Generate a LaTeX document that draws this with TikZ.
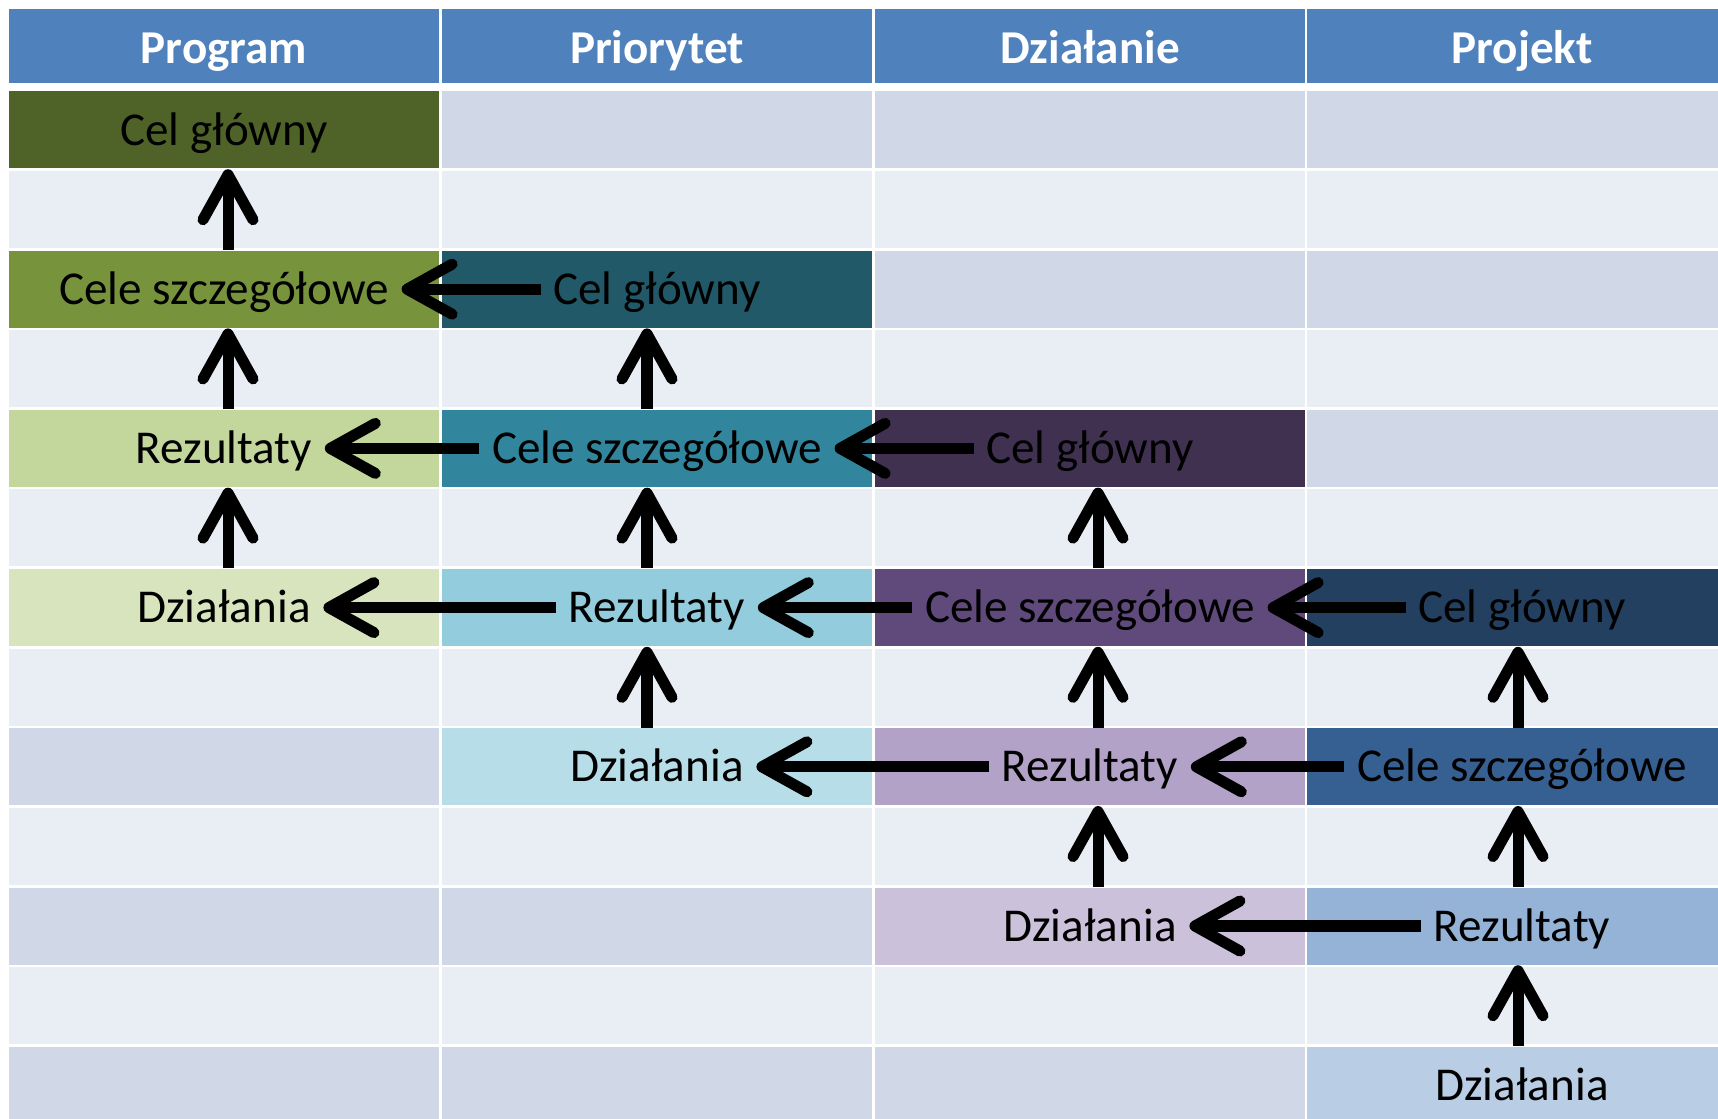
\documentclass[tikz,border=0pt]{standalone}
\usepackage{fontspec}
\setmainfont{Carlito}
\usepackage{xcolor}
\usetikzlibrary{arrows.meta}

\definecolor{head}{HTML}{4F81BD}
\definecolor{bandA}{HTML}{D0D8E8}
\definecolor{bandB}{HTML}{E9EDF4}
\definecolor{olA}{HTML}{4F6228}
\definecolor{olB}{HTML}{77933C}
\definecolor{olC}{HTML}{C3D69B}
\definecolor{olD}{HTML}{D7E4BD}
\definecolor{aqA}{HTML}{215968}
\definecolor{aqB}{HTML}{31859C}
\definecolor{aqC}{HTML}{93CDDD}
\definecolor{aqD}{HTML}{B7DEE8}
\definecolor{puA}{HTML}{403151}
\definecolor{puB}{HTML}{604A7B}
\definecolor{puC}{HTML}{B3A2C7}
\definecolor{puD}{HTML}{CCC1DA}
\definecolor{blA}{HTML}{244061}
\definecolor{blB}{HTML}{376092}
\definecolor{blC}{HTML}{95B3D7}
\definecolor{blD}{HTML}{B9CDE5}

\tikzset{
	txt/.style={minimum height=0.77cm, inner xsep=0.12cm, inner ysep=0pt,
		text height=0.3cm, text depth=0cm, font=\fontsize{13.4}{16}\selectfont},
	headtxt/.style={txt, minimum height=0.74cm, text=white,
		font=\fontsize{13.4}{16}\selectfont\bfseries},
	arr/.style={line width=0.11cm, -{Straight Barb[round, length=0.45cm, width=0.5cm]}}
}

\begin{document}
\begin{tikzpicture}[x=0.01cm, y=-0.01cm]
	\clip (0,0) rectangle (1718,1119);
	% header and banded rows
	\foreach \x in {9,442,875,1307} {
		\fill[head] (\x,9) rectangle ++(430,74);
		\foreach \r in {0,2,...,12} \fill[bandA] (\x,91.5+\r*79.6) rectangle ++(430,77);
		\foreach \r in {1,3,...,11} \fill[bandB] (\x,91.5+\r*79.6) rectangle ++(430,77);
	}
	% coloured cells
	\foreach \x/\r/\c in {9/0/olA, 9/2/olB, 9/4/olC, 9/6/olD,
		442/2/aqA, 442/4/aqB, 442/6/aqC, 442/8/aqD,
		875/4/puA, 875/6/puB, 875/8/puC, 875/10/puD,
		1307/6/blA, 1307/8/blB, 1307/10/blC, 1307/12/blD}
		\fill[\c] (\x,91.5+\r*79.6) rectangle ++(430,77);

	\node[headtxt] (h1) at (224,49) {Program};
	\node[headtxt] (h2) at (657,49) {Priorytet};
	\node[headtxt] (h3) at (1090,49) {Działanie};
	\node[headtxt] (h4) at (1522,49) {Projekt};

	\node[txt] (a1) at (224,130) {Cel główny};
	\node[txt] (a2) at (224,289.2) {Cele szczegółowe};
	\node[txt] (a3) at (224,448.4) {Rezultaty};
	\node[txt] (a4) at (224,607.6) {Działania};
	\node[txt] (b1) at (657,289.2) {Cel główny};
	\node[txt] (b2) at (657,448.4) {Cele szczegółowe};
	\node[txt] (b3) at (657,607.6) {Rezultaty};
	\node[txt] (b4) at (657,766.8) {Działania};
	\node[txt] (c1) at (1090,448.4) {Cel główny};
	\node[txt] (c2) at (1090,607.6) {Cele szczegółowe};
	\node[txt] (c3) at (1090,766.8) {Rezultaty};
	\node[txt] (c4) at (1090,926) {Działania};
	\node[txt] (d1) at (1522,607.6) {Cel główny};
	\node[txt] (d2) at (1522,766.8) {Cele szczegółowe};
	\node[txt] (d3) at (1522,926) {Rezultaty};
	\node[txt] (d4) at (1522,1085.2) {Działania};

	% upwards
	\draw[arr] ([xshift=0.04cm]a2.north) -- ([xshift=0.04cm]a1.south);
	\draw[arr] ([xshift=0.04cm]a3.north) -- ([xshift=0.04cm]a2.south);
	\draw[arr] ([xshift=0.04cm]a4.north) -- ([xshift=0.04cm]a3.south);
	\draw[arr] ([xshift=-0.1cm]b2.north) -- ([xshift=-0.1cm]b1.south);
	\draw[arr] ([xshift=-0.1cm]b3.north) -- ([xshift=-0.1cm]b2.south);
	\draw[arr] ([xshift=-0.1cm]b4.north) -- ([xshift=-0.1cm]b3.south);
	\draw[arr] ([xshift=0.08cm]c2.north) -- ([xshift=0.08cm]c1.south);
	\draw[arr] ([xshift=0.08cm]c3.north) -- ([xshift=0.08cm]c2.south);
	\draw[arr] ([xshift=0.08cm]c4.north) -- ([xshift=0.08cm]c3.south);
	\draw[arr] ([xshift=-0.04cm]d2.north) -- ([xshift=-0.04cm]d1.south);
	\draw[arr] ([xshift=-0.04cm]d3.north) -- ([xshift=-0.04cm]d2.south);
	\draw[arr] ([xshift=-0.04cm]d4.north) -- ([xshift=-0.04cm]d3.south);
	% leftwards
	\draw[arr] (b1.west) -- (a2.east);
	\draw[arr] (b2.west) -- (a3.east);
	\draw[arr] (c1.west) -- (b2.east);
	\draw[arr] (b3.west) -- (a4.east);
	\draw[arr] (c2.west) -- (b3.east);
	\draw[arr] (d1.west) -- (c2.east);
	\draw[arr] (c3.west) -- (b4.east);
	\draw[arr] (d2.west) -- (c3.east);
	\draw[arr] (d3.west) -- (c4.east);
\end{tikzpicture}
\end{document}
